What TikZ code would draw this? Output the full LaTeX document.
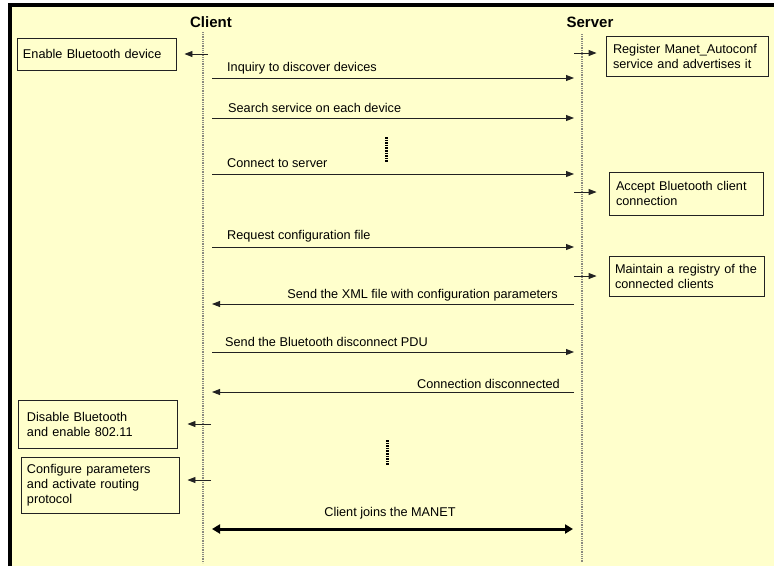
\documentclass[tikz,border=0pt]{standalone}
\usepackage{fontspec}
\setmainfont{Liberation Sans}
\usetikzlibrary{arrows.meta}
\definecolor{bgc}{HTML}{FFFFCC}
\definecolor{linec}{HTML}{222222}
\definecolor{lifec}{HTML}{8A8A80}
\tikzset{
  every node/.style={font=\fontsize{12.7}{15}\selectfont, text=black},
  lifeline/.style={draw=lifec, line width=1.2pt, dash pattern=on 1pt off 0.8pt},
  msg/.style={draw=linec, line width=0.9pt, -{Triangle[length=8pt,width=6pt]}},
  selfarr/.style={draw=linec, line width=0.9pt, -{Triangle[length=8pt,width=6pt]}},
  bigarr/.style={draw=black, line width=3pt, {Triangle[length=8pt,width=9pt]}-{Triangle[length=8pt,width=9pt]}},
  gapmark/.style={draw=black, line width=3pt, dash pattern=on 1.6pt off 1pt},
  actbox/.style={draw=linec, line width=0.9pt, align=left, inner ysep=0pt},
  lbl/.style={inner sep=0pt},
  head/.style={font=\fontsize{15}{18}\selectfont\bfseries, inner sep=0pt}
}
\begin{document}
\begin{tikzpicture}[x=1pt,y=-1pt]
\useasboundingbox (0,0) rectangle (774,566);
\fill[white] (0,0) rectangle (774,566);
\fill[bgc] (9,5) rectangle (774,566);
\draw[line width=4pt] (9.5,566) -- (9.5,5) -- (774,5);

% headers
\node[head] (client) at (211,22) {Client};
\node[head] (server) at (590,22) {Server};

% lifelines
\coordinate (ctop) at (203,32);
\coordinate (cbot) at (203,563);
\coordinate (stop) at (582,34);
\coordinate (sbot) at (582,563);
\draw[lifeline] (ctop) -- (cbot);
\draw[lifeline] (stop) -- (sbot);

% action boxes
\node[actbox, minimum width=159pt, minimum height=32pt, text width=147pt, inner xsep=6pt] (enable) at (96.5,54) {Enable Bluetooth device};
\node[actbox, minimum width=162pt, minimum height=40pt, text width=148pt, inner xsep=7pt] (register) at (687,56) {Register Manet\_Autoconf\\service and advertises it};
\node[actbox, minimum width=154pt, minimum height=43pt, text width=140pt, inner xsep=7pt] (accept) at (686,193.5) {Accept Bluetooth client\\connection};
\node[actbox, minimum width=155pt, minimum height=40pt, text width=143pt, inner xsep=6pt] (maintain) at (686.5,276) {Maintain a registry of the\\connected clients};
\node[actbox, minimum width=159pt, minimum height=48pt, text width=141pt, inner xsep=9pt] (disable) at (97.5,424) {Disable Bluetooth\\and enable 802.11};
\node[actbox, minimum width=158pt, minimum height=56pt, text width=146pt, inner xsep=6pt] (configure) at (100,485) {Configure parameters\\and activate routing\\protocol};

% local arrows
\coordinate (a1) at (208,54);
\draw[selfarr, shorten >=8pt] (a1) -- (a1 -| enable.east);
\coordinate (a2) at (574,53);
\draw[selfarr, shorten >=9pt] (a2) -- (a2 -| register.west);
\coordinate (a3) at (574,192);
\draw[selfarr, shorten >=12pt] (a3) -- (a3 -| accept.west);
\coordinate (a4) at (574,276);
\draw[selfarr, shorten >=12pt] (a4) -- (a4 -| maintain.west);
\coordinate (a5) at (211,424);
\draw[selfarr, shorten >=10pt] (a5) -- (a5 -| disable.east);
\coordinate (a6) at (211,480);
\draw[selfarr, shorten >=8pt] (a6) -- (a6 -| configure.east);

% messages
\coordinate (m1c) at (212,78);  \coordinate (m1s) at (574,78);
\draw[msg] (m1c) -- (m1s);
\node[lbl, anchor=west] (l1) at (227,68) {Inquiry to discover devices};

\coordinate (m2c) at (212,118); \coordinate (m2s) at (574,118);
\draw[msg] (m2c) -- (m2s);
\node[lbl, anchor=west] (l2) at (228,108) {Search service on each device};

\coordinate (m3c) at (212,174); \coordinate (m3s) at (574,174);
\draw[msg] (m3c) -- (m3s);
\node[lbl, anchor=west] (l3) at (227,163) {Connect to server};

\coordinate (m4c) at (212,247); \coordinate (m4s) at (574,247);
\draw[msg] (m4c) -- (m4s);
\node[lbl, anchor=west] (l4) at (227,236) {Request configuration file};

\coordinate (m5c) at (212,304); \coordinate (m5s) at (574,304);
\draw[msg] (m5s) -- (m5c);
\node[lbl, anchor=east] (l5) at (558,295) {Send the XML file with configuration parameters};

\coordinate (m6c) at (212,352); \coordinate (m6s) at (574,352);
\draw[msg] (m6c) -- (m6s);
\node[lbl, anchor=west] (l6) at (225,342) {Send the Bluetooth disconnect PDU};

\coordinate (m7c) at (212,392); \coordinate (m7s) at (574,392);
\draw[msg] (m7s) -- (m7c);
\node[lbl, anchor=east] (l7) at (560,384) {Connection disconnected};

\coordinate (m8c) at (212,529); \coordinate (m8s) at (573,529);
\draw[bigarr] (m8c) -- (m8s);
\node[lbl] (l8) at (390,513) {Client joins the MANET};

% continuation marks
\coordinate (g1a) at (386,137); \coordinate (g1b) at (386,162);
\draw[gapmark] (g1a) -- (g1b);
\coordinate (g2a) at (387,440); \coordinate (g2b) at (387,466);
\draw[gapmark] (g2a) -- (g2b);
\end{tikzpicture}
\end{document}
